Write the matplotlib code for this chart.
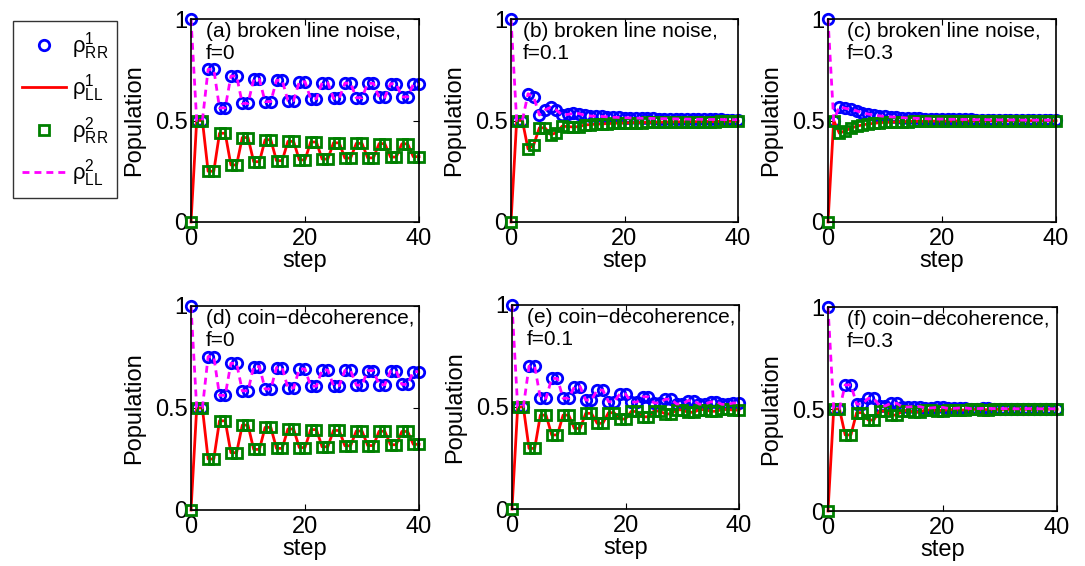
import numpy as np
import matplotlib
matplotlib.use("Agg")
import matplotlib.pyplot as plt

# ---------------------------
# Data, steps 0..40
# ---------------------------
steps = np.arange(41)

# ρ^1_RR (= ρ^2_LL) and ρ^1_LL (= ρ^2_RR) for each panel
a_rr = [1.0, 0.5, 0.5, 0.752, 0.752, 0.562, 0.562, 0.719, 0.719, 0.584, 0.584,
        0.703, 0.703, 0.593, 0.593, 0.698, 0.698, 0.598, 0.598, 0.691, 0.691,
        0.607, 0.607, 0.686, 0.686, 0.609, 0.609, 0.684, 0.684, 0.612, 0.612,
        0.683, 0.683, 0.614, 0.614, 0.681, 0.681, 0.616, 0.616, 0.678, 0.678]
a_ll = [0.0, 0.5, 0.5, 0.25, 0.25, 0.437, 0.437, 0.281, 0.281, 0.416, 0.416,
        0.297, 0.297, 0.405, 0.405, 0.302, 0.302, 0.397, 0.397, 0.306, 0.306,
        0.394, 0.394, 0.31, 0.31, 0.39, 0.39, 0.315, 0.315, 0.387, 0.387,
        0.316, 0.316, 0.386, 0.386, 0.32, 0.32, 0.385, 0.385, 0.322, 0.322]

b_rr = [1.0, 0.5, 0.5, 0.632, 0.615, 0.527, 0.552, 0.565, 0.552, 0.527, 0.53,
        0.535, 0.534, 0.525, 0.522, 0.521, 0.52, 0.518, 0.516, 0.515, 0.514,
        0.513, 0.512, 0.511, 0.511, 0.51, 0.509, 0.509, 0.508, 0.508, 0.507,
        0.507, 0.506, 0.506, 0.506, 0.505, 0.505, 0.505, 0.504, 0.504, 0.504]
b_ll = [0.0, 0.5, 0.5, 0.36, 0.38, 0.464, 0.464, 0.43, 0.44, 0.472, 0.47,
        0.468, 0.47, 0.478, 0.48, 0.482, 0.483, 0.485, 0.486, 0.487, 0.488,
        0.489, 0.49, 0.49, 0.491, 0.491, 0.492, 0.492, 0.493, 0.493, 0.494,
        0.494, 0.494, 0.495, 0.495, 0.495, 0.495, 0.496, 0.496, 0.496, 0.496]

c_rr = [1.0, 0.5, 0.568, 0.56, 0.555, 0.548, 0.538, 0.532, 0.527, 0.523, 0.52,
        0.518, 0.516, 0.514, 0.512, 0.511, 0.51, 0.509, 0.508, 0.507, 0.507,
        0.506, 0.506, 0.505, 0.505, 0.505, 0.504, 0.504, 0.504, 0.503, 0.503,
        0.503, 0.503, 0.503, 0.502, 0.502, 0.502, 0.502, 0.502, 0.502, 0.502]
c_ll = [0.0, 0.5, 0.437, 0.45, 0.461, 0.472, 0.478, 0.483, 0.486, 0.489, 0.491,
        0.492, 0.493, 0.494, 0.495, 0.496, 0.496, 0.496, 0.497, 0.497, 0.497,
        0.497, 0.498, 0.498, 0.498, 0.498, 0.498, 0.498, 0.498, 0.499, 0.499,
        0.499, 0.499, 0.499, 0.499, 0.499, 0.499, 0.499, 0.499, 0.499, 0.499]

# f=0: coin decoherence is the same as broken line noise
d_rr = list(a_rr)
d_ll = list(a_ll)

e_rr = [1.0, 0.5, 0.5, 0.70, 0.70, 0.543, 0.543, 0.64, 0.64, 0.543, 0.543,
        0.60, 0.60, 0.534, 0.534, 0.583, 0.583, 0.526, 0.526, 0.564, 0.564,
        0.524, 0.524, 0.55, 0.55, 0.52, 0.52, 0.538, 0.538, 0.515, 0.515,
        0.531, 0.531, 0.514, 0.514, 0.525, 0.525, 0.513, 0.513, 0.52, 0.52]
e_ll = [0.0, 0.5, 0.5, 0.297, 0.297, 0.46, 0.46, 0.363, 0.363, 0.46, 0.46,
        0.395, 0.395, 0.469, 0.469, 0.42, 0.42, 0.472, 0.472, 0.441, 0.441,
        0.478, 0.478, 0.452, 0.452, 0.48, 0.48, 0.466, 0.466, 0.486, 0.486,
        0.474, 0.474, 0.487, 0.487, 0.479, 0.479, 0.488, 0.488, 0.485, 0.485]

f_rr = [1.0, 0.5, 0.5, 0.618, 0.618, 0.524, 0.524, 0.552, 0.552, 0.515, 0.515,
        0.528, 0.528, 0.51, 0.51, 0.512, 0.512, 0.505, 0.505, 0.508, 0.508,
        0.503, 0.503, 0.505, 0.505, 0.502, 0.502, 0.503, 0.503, 0.502, 0.502,
        0.502, 0.502, 0.501, 0.501, 0.502, 0.502, 0.501, 0.501, 0.501, 0.501]
f_ll = [0.0, 0.5, 0.5, 0.373, 0.373, 0.482, 0.482, 0.446, 0.446, 0.49, 0.49,
        0.47, 0.47, 0.492, 0.492, 0.485, 0.485, 0.495, 0.495, 0.492, 0.492,
        0.497, 0.497, 0.495, 0.495, 0.498, 0.498, 0.497, 0.497, 0.498, 0.498,
        0.498, 0.498, 0.499, 0.499, 0.498, 0.498, 0.499, 0.499, 0.499, 0.499]

titles = ["(a) broken line noise,\nf=0", "(b) broken line noise,\nf=0.1",
          "(c) broken line noise,\nf=0.3", "(d) coin\u2212decoherence,\nf=0",
          "(e) coin\u2212decoherence,\nf=0.1", "(f) coin\u2212decoherence,\nf=0.3"]
panel_rr = [a_rr, b_rr, c_rr, d_rr, e_rr, f_rr]
panel_ll = [a_ll, b_ll, c_ll, d_ll, e_ll, f_ll]
title_x = [2.6, 2.1, 3.3, 2.6, 2.6, 3.3]

legend_labels = [r"$\rho^{1}_{RR}$", r"$\rho^{1}_{LL}$",
                 r"$\rho^{2}_{RR}$", r"$\rho^{2}_{LL}$"]

# ---------------------------
# Style
# ---------------------------
plt.rcParams["font.family"] = ["Liberation Sans", "DejaVu Sans"]
plt.rcParams["mathtext.fontset"] = "custom"
plt.rcParams["mathtext.rm"] = "Liberation Sans"
plt.rcParams["mathtext.it"] = "Liberation Sans"
plt.rcParams["mathtext.default"] = "rm"

W, H = 1085, 566
fig = plt.figure(figsize=(W / 100, H / 100), dpi=100)

# axes boxes in pixels: left, top, right, bottom
boxes = [(191, 19, 419, 222), (511, 19, 738, 222), (828, 19, 1056, 222),
         (191, 306, 419, 510), (512, 305, 739, 509), (828, 307, 1057, 511)]

axes = []
for box in boxes:
    l, t, r, b = box
    ax = fig.add_axes([l / W, 1 - b / H, (r - l) / W, (b - t) / H])
    axes.append(ax)

for i, ax in enumerate(axes):
    rr = panel_rr[i]
    ll = panel_ll[i]
    h1, = ax.plot(steps, rr, "o", color="#0000ff", mfc="none", ms=7.5, mew=2,
                  clip_on=False)
    h2, = ax.plot(steps, ll, "-", color="#ff0000", lw=2, clip_on=False)
    h3, = ax.plot(steps, ll, "s", color="#008000", mfc="none", ms=7, mew=2,
                  clip_on=False)
    h4, = ax.plot(steps, rr, "--", color="#ff00ff", lw=2, dashes=(2.5, 1.8),
                  clip_on=False)

    ax.set_xlim(0, 40)
    ax.set_ylim(0, 1)
    ax.set_xticks([0, 20, 40])
    ax.set_yticks([0, 0.5, 1])
    ax.set_yticklabels(["0", "0.5", "1"])
    ax.tick_params(direction="in", top=True, right=True, labelsize=17,
                   length=4, width=0.8)
    ax.tick_params(axis="x", pad=4.5)
    ax.tick_params(axis="y", pad=2.5)
    for s in ax.spines.values():
        s.set_linewidth(1.2)
    ax.set_xlabel("step", fontsize=17, labelpad=0)
    ax.set_ylabel("Population", fontsize=17, labelpad=7)
    ax.text(title_x[i], 0.985, titles[i], fontsize=15, va="top", ha="left",
            linespacing=1.2)

    if i == 0:
        handles = [h1, h2, h3, h4]

leg = fig.legend(handles, legend_labels, loc="upper left",
                 bbox_to_anchor=(13 / W, 1 - 21 / H), borderaxespad=0,
                 fontsize=16, frameon=True, fancybox=False, edgecolor="black",
                 handlelength=2.0, handletextpad=0.25, labelspacing=0.48,
                 borderpad=0.4)
leg.get_frame().set_linewidth(1.0)

fig.savefig("out.png", dpi=100)
